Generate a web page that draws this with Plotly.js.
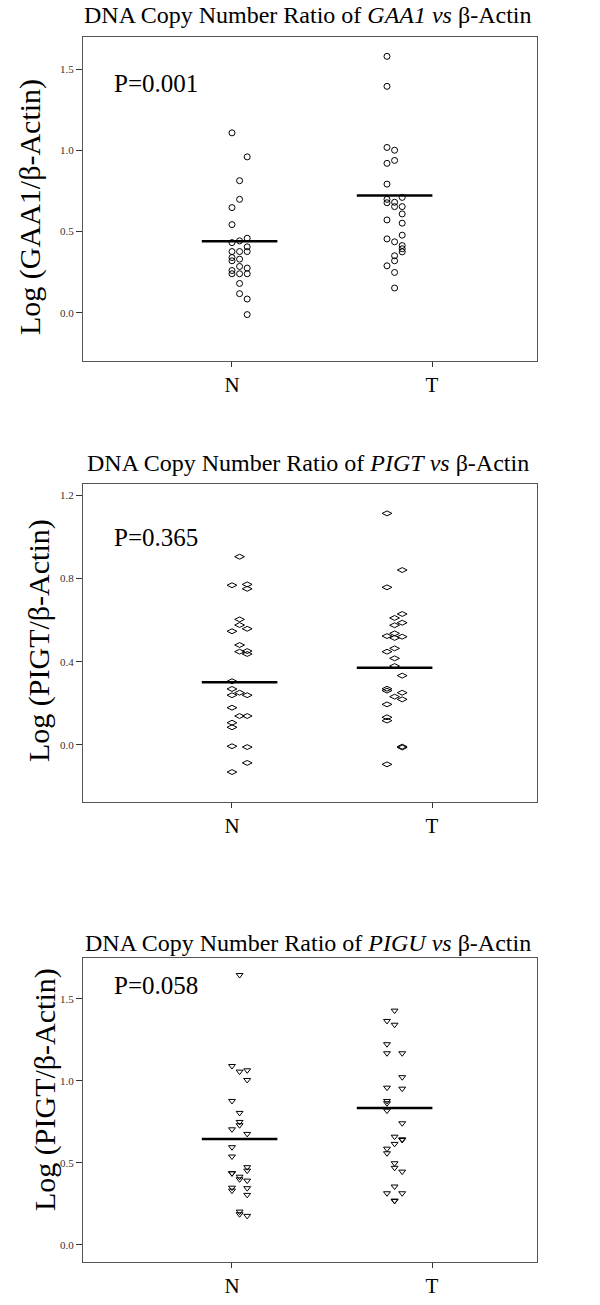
<!DOCTYPE html>
<html>
<head>
<meta charset="utf-8">
<script src="https://cdn.plot.ly/plotly-3.0.1.min.js"></script>
<style>
  html, body { margin: 0; padding: 0; background: #fff; }
  #chart { width: 600px; height: 1305px; }
</style>
</head>
<body>
<div id="chart"></div>
<script>
// groups on the x axis
const groups = ['N', 'T'];

// log ratios, with the dot-plot column each dot sits in (0,1,2)
const gaa1N = [1.109, 0.961, 0.814, 0.699, 0.648, 0.543, 0.459, 0.443, 0.432, 0.406, 0.377, 0.377, 0.377,
  0.340, 0.320, 0.330, 0.285, 0.275, 0.260, 0.240, 0.240, 0.240, 0.180, 0.117, 0.084, -0.012];
const gaa1NCol = [0, 2, 1, 1, 0, 0, 2, 1, 0, 2, 0, 1, 2, 0, 0, 1, 1, 2, 0, 0, 1, 2, 1, 1, 2, 2];
const gaa1T = [1.581, 1.396, 1.019, 1.002, 0.921, 0.939, 0.793, 0.711, 0.699, 0.678, 0.681, 0.654, 0.654,
  0.609, 0.572, 0.552, 0.478, 0.455, 0.437, 0.414, 0.394, 0.375, 0.351, 0.320, 0.289, 0.248, 0.152];
const gaa1TCol = [0, 0, 0, 1, 0, 1, 0, 2, 0, 0, 1, 1, 2, 2, 0, 2, 2, 0, 1, 2, 2, 2, 1, 1, 0, 1, 1];

const pigtN = [0.904, 0.767, 0.771, 0.750, 0.603, 0.576, 0.558, 0.546, 0.480, 0.448, 0.451, 0.437, 0.306,
  0.269, 0.239, 0.251, 0.239, 0.179, 0.139, 0.139, 0.107, 0.085, -0.006, -0.010, -0.086, -0.130];
const pigtNCol = [1, 0, 2, 2, 1, 1, 2, 0, 1, 1, 2, 2, 0, 0, 0, 1, 2, 0, 1, 2, 0, 0, 0, 2, 2, 0];
const pigtT = [1.112, 0.840, 0.757, 0.629, 0.610, 0.587, 0.575, 0.523, 0.536, 0.514, 0.520, 0.448, 0.464,
  0.416, 0.379, 0.333, 0.270, 0.261, 0.251, 0.232, 0.219, 0.195, 0.133, 0.117, -0.008, -0.012, -0.093];
const pigtTCol = [0, 2, 0, 2, 1, 2, 1, 0, 1, 1, 2, 0, 1, 1, 1, 2, 0, 0, 2, 1, 2, 0, 0, 0, 2, 2, 0];

const piguN = [1.646, 1.091, 1.057, 1.065, 1.006, 0.878, 0.805, 0.750, 0.730, 0.705, 0.677, 0.596, 0.539,
  0.474, 0.453, 0.437, 0.437, 0.416, 0.400, 0.392, 0.349, 0.331, 0.346, 0.305, 0.203, 0.187, 0.177];
const piguNCol = [1, 0, 1, 2, 2, 0, 1, 1, 1, 0, 2, 0, 0, 2, 2, 0, 0, 1, 1, 2, 0, 0, 2, 2, 1, 1, 2];
const piguT = [1.429, 1.366, 1.343, 1.224, 1.169, 1.169, 1.023, 0.959, 0.953, 0.878, 0.864, 0.819, 0.742,
  0.660, 0.644, 0.640, 0.616, 0.587, 0.559, 0.498, 0.470, 0.447, 0.356, 0.315, 0.315, 0.270, 0.268];
const piguTCol = [1, 0, 1, 0, 0, 2, 2, 0, 2, 0, 0, 0, 2, 1, 2, 2, 1, 0, 0, 1, 1, 2, 1, 0, 2, 1, 1];

// group means (horizontal bars)
const gaa1Means = [0.441, 0.722];
const pigtMeans = [0.301, 0.371];
const piguMeans = [0.646, 0.835];

const pValues = ['P=0.001', 'P=0.365', 'P=0.058'];
const genes = ['GAA1', 'PIGT', 'PIGU'];
const yTitles = ['Log (GAA1/β-Actin)', 'Log (PIGT/β-Actin)', 'Log (PIGT/β-Actin)'];

const SERIF = 'Liberation Serif, Times New Roman, serif';
const COL_STEP = 0.038;
// where each dot cluster starts relative to its category tick (the T dots sit left of the T tick)
const GROUP_SHIFT = [0, -0.225];

const panels = [
  { n: gaa1N, nc: gaa1NCol, t: gaa1T, tc: gaa1TCol, means: gaa1Means, symbol: 'circle-open', size: 6 },
  { n: pigtN, nc: pigtNCol, t: pigtT, tc: pigtTCol, means: pigtMeans, symbol: 'diamond-wide-open', size: 7 },
  { n: piguN, nc: piguNCol, t: piguT, tc: piguTCol, means: piguMeans, symbol: 'triangle-down-open', size: 6 }
];

const traces = [];
panels.forEach((p, i) => {
  const sfx = i === 0 ? '' : String(i + 1);
  [[p.n, p.nc], [p.t, p.tc]].forEach(([vals, cols], g) => {
    traces.push({
      x: vals.map((v, k) => g + GROUP_SHIFT[g] + cols[k] * COL_STEP),
      y: vals,
      type: 'scatter',
      mode: 'markers',
      xaxis: 'x' + sfx,
      yaxis: 'y' + sfx,
      marker: { symbol: p.symbol, size: p.size, color: '#000', line: { width: 1, color: '#000' } },
      hoverinfo: 'y',
      showlegend: false
    });
  });
  // mean bars, centred on the middle column of each cluster
  traces.push({
    x: groups.map((g, k) => k + GROUP_SHIFT[k] + COL_STEP),
    y: p.means,
    type: 'scatter',
    mode: 'markers',
    xaxis: 'x' + sfx,
    yaxis: 'y' + sfx,
    marker: { symbol: 'line-ew-open', size: 54, color: '#000', line: { width: 2.5, color: '#000' } },
    hoverinfo: 'y',
    showlegend: false
  });
});

const frame = { showline: true, mirror: true, linecolor: '#555', linewidth: 1, showgrid: false, zeroline: false };

function xAxis(anchor) {
  return Object.assign({}, frame, {
    domain: [0.1383, 0.895],
    anchor: anchor,
    range: [-0.745, 1.525],
    tickvals: [0, 1],
    ticktext: groups,
    ticks: 'outside', ticklen: 5, tickcolor: '#333',
    tickfont: { family: SERIF, size: 21, color: '#000' },
    fixedrange: true
  });
}
function yAxis(domain, range, dtick, anchor) {
  return Object.assign({}, frame, {
    domain: domain,
    anchor: anchor,
    range: range,
    dtick: dtick,
    tickformat: '.1f',
    ticks: 'outside', ticklen: 6, tickcolor: '#333',
    tickfont: { family: SERIF, size: 11, color: '#333' },
    fixedrange: true
  });
}

const yDomains = [[0.7234, 0.9716], [0.3854, 0.6291], [0.0330, 0.2659]];
const yRanges = [[-0.298, 1.70], [-0.274, 1.253], [-0.104, 1.75]];
const yDticks = [0.5, 0.4, 0.5];
const titleY = [1 - 15 / 1305, 1 - 463 / 1305, 1 - 943 / 1305];
const pY = [1 - 83 / 1305, 1 - 537 / 1305, 1 - 985 / 1305];
const yTitleX = [30, 39, 45];
const yTitleY = [1 - 207 / 1305, 1 - 641 / 1305, 1 - 1090 / 1305];

const annotations = [];
genes.forEach((gene, i) => {
  annotations.push({
    text: 'DNA Copy Number Ratio of <i>' + gene + '</i> <i>vs</i> β-Actin',
    xref: 'paper', yref: 'paper', x: 308 / 600, y: titleY[i],
    xanchor: 'center', yanchor: 'middle', showarrow: false, borderpad: 0,
    font: { family: SERIF, size: 24, color: '#000' }
  });
  annotations.push({
    text: pValues[i],
    xref: 'paper', yref: 'paper', x: 112 / 600, y: pY[i],
    xanchor: 'left', yanchor: 'middle', showarrow: false,
    font: { family: SERIF, size: 25, color: '#000' }
  });
  annotations.push({
    text: yTitles[i],
    xref: 'paper', yref: 'paper', x: yTitleX[i] / 600, y: yTitleY[i],
    xanchor: 'center', yanchor: 'middle', textangle: -90, showarrow: false,
    font: { family: SERIF, size: 30, color: '#000' }
  });
});

const layout = {
  width: 600,
  height: 1305,
  margin: { t: 0, r: 0, b: 0, l: 0 },
  paper_bgcolor: '#fff',
  plot_bgcolor: '#fff',
  xaxis: xAxis('y'),
  yaxis: yAxis(yDomains[0], yRanges[0], yDticks[0], 'x'),
  xaxis2: xAxis('y2'),
  yaxis2: yAxis(yDomains[1], yRanges[1], yDticks[1], 'x2'),
  xaxis3: xAxis('y3'),
  yaxis3: yAxis(yDomains[2], yRanges[2], yDticks[2], 'x3'),
  annotations: annotations
};

Plotly.newPlot('chart', traces, layout, { displayModeBar: false, staticPlot: true });
</script>
</body>
</html>
